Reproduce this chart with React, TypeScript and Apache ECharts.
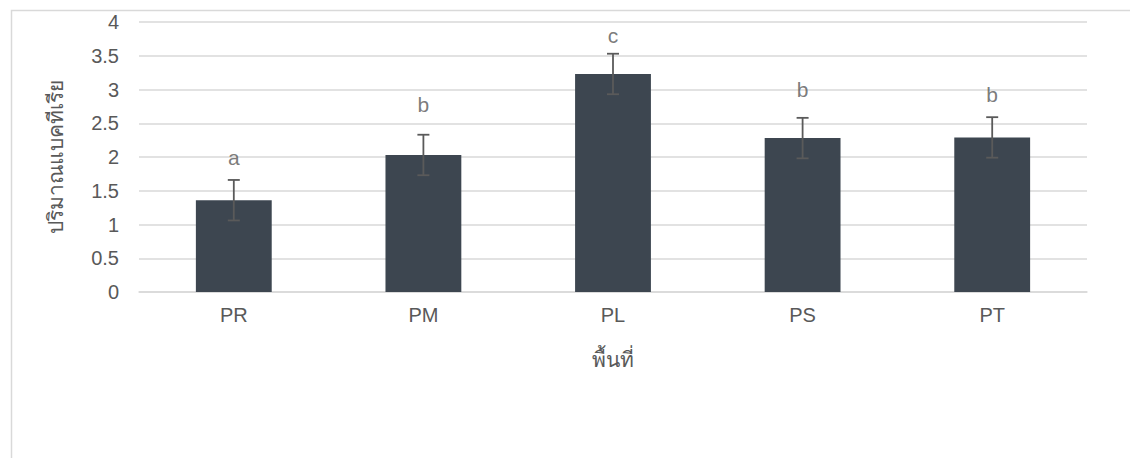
import React, { useEffect, useRef } from "react";
import * as echarts from "echarts";

const categories = ["PR", "PM", "PL", "PS", "PT"];
const means = [1.36, 2.03, 3.23, 2.28, 2.29];
const errors = [0.3, 0.3, 0.3, 0.3, 0.3];
const letters = ["a", "b", "c", "b", "b"];
const letterHeights = [1.83, 2.62, 3.65, 2.84, 2.77];
const yTicks = { min: 0, max: 4, interval: 0.5 };

const FONT = "'Liberation Sans', Arial, 'Noto Sans', 'DejaVu Sans', sans-serif";
const TEXT = "#595959";

export default function App() {
  const ref = useRef<HTMLDivElement>(null);
  useEffect(() => {
    if (!ref.current) return;
    const chart = echarts.init(ref.current, undefined, { renderer: "svg" });
    const errData = categories.map((_, i) => [i, means[i] - errors[i], means[i] + errors[i]]);
    chart.setOption({
      animation: false,
      textStyle: { fontFamily: FONT },
      graphic: [
        {
          type: "rect",
          left: 9,
          top: 8,
          shape: { x: 0, y: 0, width: 1140, height: 470 },
          style: { fill: "none", stroke: "#d9d9d9", lineWidth: 1.5 },
          silent: true,
          z: -1,
        },
      ],
      grid: { left: 139, right: 43, top: 22, bottom: 166 },
      xAxis: {
        type: "category",
        data: categories,
        axisLine: { show: true, lineStyle: { color: "#d9d9d9", width: 1.5 } },
        axisTick: { show: false },
        axisLabel: { color: TEXT, fontSize: 20, margin: 13, fontFamily: FONT },
        name: "พื้นที่",
        nameLocation: "middle",
        nameGap: 57,
        nameTextStyle: { color: TEXT, fontSize: 21, fontFamily: FONT },
      },
      yAxis: {
        type: "value",
        min: yTicks.min,
        max: yTicks.max,
        interval: yTicks.interval,
        axisLine: { show: false },
        axisTick: { show: false },
        splitLine: { lineStyle: { color: "#d9d9d9", width: 1.5 } },
        axisLabel: { color: TEXT, fontSize: 20, margin: 20, fontFamily: FONT },
        name: "ปริมาณแบคทีเรีย",
        nameLocation: "middle",
        nameGap: 73,
        nameRotate: 90,
        nameTextStyle: { color: TEXT, fontSize: 21, fontFamily: FONT },
      },
      series: [
        {
          type: "bar",
          data: means,
          barCategoryGap: "60%",
          itemStyle: { color: "#3d4650" },
          z: 2,
        },
        {
          type: "custom",
          data: errData,
          z: 3,
          renderItem: (params: any, api: any) => {
            const x = api.value(0);
            const lo = api.coord([x, api.value(1)]);
            const hi = api.coord([x, api.value(2)]);
            const cap = 6;
            const style = { stroke: "#5a5a5a", lineWidth: 1.8 };
            return {
              type: "group",
              children: [
                { type: "line", shape: { x1: lo[0], y1: lo[1], x2: hi[0], y2: hi[1] }, style },
                { type: "line", shape: { x1: hi[0] - cap, y1: hi[1], x2: hi[0] + cap, y2: hi[1] }, style },
                { type: "line", shape: { x1: lo[0] - cap, y1: lo[1], x2: lo[0] + cap, y2: lo[1] }, style },
              ],
            };
          },
        },
        {
          type: "scatter",
          data: letterHeights,
          symbolSize: 0,
          z: 4,
          label: {
            show: true,
            position: [0, 0],
            align: "center",
            verticalAlign: "bottom",
            color: TEXT,
            fontSize: 21,
            fontFamily: FONT,
            formatter: (p: any) => letters[p.dataIndex],
          },
        },
      ],
    });
    return () => chart.dispose();
  }, []);
  return (
    <div
      ref={ref}
      style={{ position: "fixed", left: 0, top: 0, width: 1130, height: 458, background: "#fff" }}
    />
  );
}
